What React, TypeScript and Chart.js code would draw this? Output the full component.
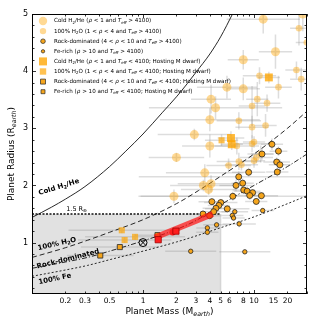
import React, { useEffect, useRef } from "react";
import { Chart, registerables } from "chart.js";
Chart.register(...registerables);

const FONT = '"DejaVu Sans", sans-serif';

// ---------- axes ----------
const xTickValues = [0.2, 0.3, 0.5, 1, 2, 3, 4, 5, 6, 8, 10, 15, 20];
const xTickLabels = ["0.2", "0.3", "0.5", "1", "2", "3", "4", "5", "6", "8", "10", "15", "20"];
const xMajorTicks = [0.1, 1, 10];
const xMinorTicks = [0.2, 0.3, 0.4, 0.5, 0.6, 0.7, 0.8, 0.9, 2, 3, 4, 5, 6, 7, 8, 9, 20, 30];
const yTickValues = [1, 2, 3, 4, 5];
const yMinorTicks = [0.2, 0.4, 0.6, 0.8, 1.2, 1.4, 1.6, 1.8, 2.2, 2.4, 2.6, 2.8, 3.2, 3.4, 3.6, 3.8, 4.2, 4.4, 4.6, 4.8];

// ---------- model curves ----------
const coldCurveMass = [0.1, 0.15, 0.2, 0.3, 0.5, 0.7, 1, 1.5, 2, 2.5, 3, 4, 5, 6.4, 7];
const coldCurveRadius = [1.44, 1.62, 1.76, 1.98, 2.33, 2.6, 2.9, 3.28, 3.55, 3.78, 3.98, 4.3, 4.6, 5.0, 5.15];
const curveMass = [0.1, 0.2, 0.316, 0.5, 1, 2, 3.16, 5, 10, 20, 30];
const h2oCurveRadius = [0.74, 0.91, 1.04, 1.18, 1.4, 1.68, 1.91, 2.16, 2.55, 3.0, 3.3];
const rockCurveRadius = [0.55, 0.66, 0.74, 0.85, 1.03, 1.23, 1.41, 1.66, 2.0, 2.33, 2.55];
const feCurveRadius = [0.41, 0.52, 0.6, 0.7, 0.85, 1.01, 1.13, 1.26, 1.45, 1.68, 1.82];
const limitMass = [0.1, 5];
const limitRadius = [1.5, 1.5];
const shadeMassMax = 5;
const shadeRadiusMax = 1.5;

// ---------- planets: T_eff > 4100 ----------
const coldFgkMass = [12.1, 15.6, 8.0, 5.7, 8.0, 4.1, 4.5, 4.0, 2.9, 2.0, 27.5, 4.0, 1.9, 3.6, 4.1, 3.5, 3.9];
const coldFgkRadius = [4.91, 4.34, 4.2, 3.72, 3.69, 3.51, 3.36, 3.15, 2.89, 2.49, 5.0, 2.69, 1.81, 2.22, 2.03, 2.0, 1.93];
const coldFgkMassErrDex = [0.33, 0.15, 0.14, 0.27, 0.15, 0.18, 0.6, 0.45, 0.33, 0.25, 0.1, 0.25, 0.3, 0.35, 0.3, 0.3, 0.25];
const coldFgkRadiusErr = [0.25, 0.3, 0.17, 0.2, 0.2, 0.25, 0.2, 0.2, 0.1, 0.08, 0.3, 0.2, 0.12, 0.15, 0.15, 0.1, 0.1];

const h2oFgkMass = [10.7, 9.6, 29.9, 25.4, 24.1, 26.6, 16.6, 11.2, 13.1, 7.3, 9.6, 12.7, 7.0, 9.6, 10.0, 11.5, 10.5, 7.3, 7.7, 10.0, 5.9];
const h2oFgkRadius = [3.51, 3.39, 4.5, 4.75, 4.02, 3.86, 3.72, 3.92, 3.44, 3.13, 3.02, 3.05, 2.69, 2.73, 2.76, 2.55, 2.49, 2.42, 2.36, 2.43, 2.35];
const h2oFgkMassErrDex = [0.1, 0.12, 0.1, 0.08, 0.1, 0.1, 0.12, 0.15, 0.12, 0.2, 0.15, 0.1, 0.2, 0.15, 0.1, 0.12, 0.15, 0.2, 0.15, 0.1, 0.2];
const h2oFgkRadiusErr = [0.3, 0.35, 0.25, 0.3, 0.15, 0.2, 0.2, 0.15, 0.15, 0.15, 0.2, 0.2, 0.15, 0.15, 0.1, 0.15, 0.1, 0.15, 0.1, 0.12, 0.12];

const rockFgkMass = [14.5, 16.6, 11.8, 16.0, 17.1, 16.2, 8.95, 7.28, 7.9, 6.88, 8.07, 8.67, 9.71, 9.15, 11.65, 6.44, 10.47, 4.17, 5.02, 4.82, 4.54, 5.74, 3.47, 3.98, 4.33];
const rockFgkRadius = [2.72, 2.6, 2.55, 2.41, 2.36, 2.235, 2.23, 2.15, 2.04, 2.0, 1.92, 1.9, 1.873, 1.824, 1.82, 1.81, 1.72, 1.716, 1.7, 1.65, 1.6, 1.59, 1.5, 1.47, 1.54];
const rockFgkMassErrDex = [0.1, 0.08, 0.1, 0.12, 0.1, 0.1, 0.15, 0.9, 0.1, 0.15, 0.1, 0.12, 0.1, 0.12, 0.15, 0.85, 0.1, 0.12, 0.15, 0.1, 0.12, 0.2, 0.15, 0.1, 0.12];
const rockFgkRadiusErr = [0.1, 0.08, 0.1, 0.08, 0.1, 0.08, 0.08, 0.1, 0.08, 0.1, 0.06, 0.08, 0.06, 0.08, 0.06, 0.08, 0.06, 0.06, 0.06, 0.06, 0.06, 0.06, 0.06, 0.05, 0.06];

const feFgkMass = [11.97, 6.71, 6.37, 6.54, 4.6, 3.8, 3.8, 7.35, 2.69, 8.26];
const feFgkRadius = [1.56, 1.54, 1.475, 1.43, 1.31, 1.257, 1.18, 1.327, 0.848, 0.838];
const feFgkMassErrDex = [0.1, 0.12, 0.1, 0.1, 0.12, 0.1, 0.1, 0.15, 0.23, 0.23];
const feFgkRadiusErr = [0.05, 0.05, 0.05, 0.05, 0.05, 0.05, 0.05, 0.06, 0.04, 0.04];

// ---------- planets: T_eff < 4100 (M dwarf hosts) ----------
const coldMMass = [13.6, 6.2, 6.3];
const coldMRadius = [3.89, 2.83, 2.72];
const coldMMassErrDex = [0.1, 0.12, 0.1];
const coldMRadiusErr = [0.1, 0.12, 0.1];

const h2oMMass = [5.1, 0.644, 0.683, 0.848];
const h2oMRadius = [2.79, 1.215, 1.044, 1.1];
const h2oMMassErrDex = [0.15, 0.48, 0.42, 0.45];
const h2oMRadiusErr = [0.1, 0.05, 0.05, 0.05];

const rockMMass = [0.412, 0.618, 1.35];
const rockMRadius = [0.773, 0.921, 1.13];
const rockMMassErrDex = [0.3, 0.35, 0.2];
const rockMRadiusErr = [0.04, 0.04, 0.05];

const feMMass: number[] = [];
const feMRadius: number[] = [];

// ---------- highlighted system & Earth ----------
const redLineMass = [1.28, 4.25];
const redLineRadius = [1.09, 1.5];
const redSquareMass = [1.37, 1.98];
const redSquareRadius = [1.05, 1.2];
const redCircleMass = [1.85];
const redCircleRadius = [1.18];
const earthMass = [1];
const earthRadius = [1];

// ---------- text ----------
type Seg = { t: string; s?: "i" | "sub" | "isub" };
const teff: Seg[] = [{ t: "T", s: "i" }, { t: "eff", s: "isub" }];
const rho: Seg = { t: "ρ", s: "i" };
const legendLabels: Seg[][] = [
  [{ t: "Cold H" }, { t: "2", s: "sub" }, { t: "/He (" }, rho, { t: " < 1 and " }, ...teff, { t: " > 4100)" }],
  [{ t: "100% H" }, { t: "2", s: "sub" }, { t: "O (1 < " }, rho, { t: " < 4 and " }, ...teff, { t: " > 4100)" }],
  [{ t: "Rock-dominated (4 < " }, rho, { t: " < 10 and " }, ...teff, { t: " > 4100)" }],
  [{ t: "Fe-rich (" }, rho, { t: " > 10 and " }, ...teff, { t: " > 4100)" }],
  [{ t: "Cold H" }, { t: "2", s: "sub" }, { t: "/He (" }, rho, { t: " < 1 and " }, ...teff, { t: " < 4100; Hosting M dwarf)" }],
  [{ t: "100% H" }, { t: "2", s: "sub" }, { t: "O (1 < " }, rho, { t: " < 4 and " }, ...teff, { t: " < 4100; Hosting M dwarf)" }],
  [{ t: "Rock-dominated (4 < " }, rho, { t: " < 10 and " }, ...teff, { t: " < 4100; Hosting M dwarf)" }],
  [{ t: "Fe-rich (" }, rho, { t: " > 10 and " }, ...teff, { t: " < 4100; Hosting M dwarf)" }],
];
const curveLabels: { segs: Seg[]; m: number; r: number; rot: number; bold: boolean; size: number }[] = [
  { segs: [{ t: "Cold H" }, { t: "2", s: "sub" }, { t: "/He" }], m: 0.175, r: 1.97, rot: -17, bold: true, size: 7 },
  { segs: [{ t: "1.5 R" }, { t: "⊕", s: "sub" }], m: 0.252, r: 1.59, rot: 0, bold: false, size: 6.5 },
  { segs: [{ t: "100% H" }, { t: "2", s: "sub" }, { t: "O" }], m: 0.168, r: 0.975, rot: -13, bold: true, size: 7 },
  { segs: [{ t: "Rock-dominated" }], m: 0.211, r: 0.712, rot: -14, bold: true, size: 7 },
  { segs: [{ t: "100% Fe" }], m: 0.161, r: 0.362, rot: -12, bold: true, size: 7 },
];
const xTitle: Seg[] = [{ t: "Planet Mass (M" }, { t: "earth", s: "isub" }, { t: ")" }];
const yTitle: Seg[] = [{ t: "Planet Radius (R" }, { t: "earth", s: "isub" }, { t: ")" }];

// ---------- styles ----------
const LIGHT = "rgba(255,165,0,0.42)";
const ROCK = "rgba(246,163,22,0.97)";
const EDGE = "#262626";
const SQ_COLD = "rgba(255,165,0,0.78)";
const SQ_H2O = "rgba(255,165,0,0.68)";
const ERR = "rgba(150,150,150,0.32)";

type Marker = { shape: "circle" | "rect"; size: number; fill: string; stroke?: string };
const legendMarkers: Marker[] = [
  { shape: "circle", size: 4.2, fill: LIGHT },
  { shape: "circle", size: 3.2, fill: LIGHT },
  { shape: "circle", size: 2.3, fill: ROCK, stroke: EDGE },
  { shape: "circle", size: 1.7, fill: ROCK, stroke: EDGE },
  { shape: "rect", size: 4, fill: SQ_COLD },
  { shape: "rect", size: 3.2, fill: SQ_H2O },
  { shape: "rect", size: 2.5, fill: ROCK, stroke: EDGE },
  { shape: "rect", size: 2, fill: ROCK, stroke: EDGE },
];

function segFont(seg: Seg, size: number, bold: boolean) {
  const italic = seg.s === "i" || seg.s === "isub";
  const sub = seg.s === "sub" || seg.s === "isub";
  const fs = sub ? size * 0.7 : size;
  return `${italic ? "italic " : ""}${bold ? "bold " : ""}${fs}px ${FONT}`;
}
function richWidth(ctx: CanvasRenderingContext2D, segs: Seg[], size: number, bold = false) {
  let w = 0;
  for (const s of segs) {
    ctx.font = segFont(s, size, bold);
    w += ctx.measureText(s.t).width;
  }
  return w;
}
function drawRich(ctx: CanvasRenderingContext2D, x: number, y: number, segs: Seg[], size: number, bold = false) {
  let cx = x;
  ctx.textBaseline = "middle";
  ctx.textAlign = "left";
  for (const s of segs) {
    ctx.font = segFont(s, size, bold);
    const sub = s.s === "sub" || s.s === "isub";
    ctx.fillText(s.t, cx, y + (sub ? size * 0.28 : 0));
    cx += ctx.measureText(s.t).width;
  }
}

const pts = (m: number[], r: number[]) => m.map((v, i) => ({ x: v, y: r[i] }));

const decorPlugin = {
  id: "decor",
  beforeDatasetsDraw(chart: any) {
    const { ctx, chartArea: a, scales } = chart;
    const x = scales.x, y = scales.y;
    ctx.save();
    ctx.beginPath();
    ctx.rect(a.left, a.top, a.right - a.left, a.bottom - a.top);
    ctx.clip();
    // shaded region
    const x0 = a.left, x1 = x.getPixelForValue(shadeMassMax);
    const y0 = y.getPixelForValue(shadeRadiusMax), y1 = a.bottom;
    ctx.fillStyle = "#e1e1e1";
    ctx.fillRect(x0, y0, x1 - x0, y1 - y0);
    ctx.strokeStyle = "rgba(190,190,190,0.5)";
    ctx.lineWidth = 1.5;
    ctx.beginPath();
    ctx.moveTo(x1, y0);
    ctx.lineTo(x1, y1);
    ctx.stroke();
    // error bars
    ctx.strokeStyle = ERR;
    ctx.lineWidth = 1.5;
    chart.data.datasets.forEach((ds: any) => {
      if (!ds.errX) return;
      ds.data.forEach((p: any, i: number) => {
        const d = ds.errX[i], e = ds.errY[i];
        const px = x.getPixelForValue(p.x), py = y.getPixelForValue(p.y);
        ctx.beginPath();
        ctx.moveTo(x.getPixelForValue(p.x / Math.pow(10, d)), py);
        ctx.lineTo(x.getPixelForValue(p.x * Math.pow(10, d)), py);
        ctx.moveTo(px, y.getPixelForValue(p.y - e));
        ctx.lineTo(px, y.getPixelForValue(p.y + e));
        ctx.stroke();
      });
    });
    ctx.restore();
  },
  afterDraw(chart: any) {
    const { ctx, chartArea: a, scales } = chart;
    const x = scales.x, y = scales.y;
    ctx.save();
    // frame
    ctx.strokeStyle = "#000";
    ctx.lineWidth = 1;
    ctx.strokeRect(Math.round(a.left) + 0.5, Math.round(a.top) + 0.5, Math.round(a.right - a.left) - 1, Math.round(a.bottom - a.top) - 1);
    // ticks
    const tick = (x1: number, y1: number, x2: number, y2: number) => {
      ctx.beginPath();
      ctx.moveTo(x1, y1);
      ctx.lineTo(x2, y2);
      ctx.stroke();
    };
    ctx.lineWidth = 0.8;
    xMajorTicks.forEach((v) => {
      const p = Math.round(x.getPixelForValue(v)) + 0.5;
      tick(p, a.bottom, p, a.bottom - 4);
      tick(p, a.top, p, a.top + 4);
    });
    xMinorTicks.forEach((v) => {
      const p = Math.round(x.getPixelForValue(v)) + 0.5;
      tick(p, a.bottom, p, a.bottom - 2.5);
      tick(p, a.top, p, a.top + 2.5);
    });
    yTickValues.forEach((v) => {
      const p = Math.round(y.getPixelForValue(v)) + 0.5;
      tick(a.left, p, a.left + 4, p);
      tick(a.right, p, a.right - 4, p);
    });
    yMinorTicks.forEach((v) => {
      const p = Math.round(y.getPixelForValue(v)) + 0.5;
      tick(a.left, p, a.left + 2.5, p);
      tick(a.right, p, a.right - 2.5, p);
    });
    // curve labels
    ctx.fillStyle = "#000";
    curveLabels.forEach((l) => {
      const px = x.getPixelForValue(l.m), py = y.getPixelForValue(l.r);
      const w = richWidth(ctx, l.segs, l.size, l.bold);
      ctx.save();
      ctx.translate(px, py);
      ctx.rotate((l.rot * Math.PI) / 180);
      drawRich(ctx, -w / 2, 0, l.segs, l.size, l.bold);
      ctx.restore();
    });
    // legend
    const lx = a.left + 11, tx = a.left + 22, ly0 = a.top + 7, step = 10.1;
    legendMarkers.forEach((mk, i) => {
      const cy = ly0 + i * step;
      ctx.beginPath();
      if (mk.shape === "circle") ctx.arc(lx, cy, mk.size, 0, Math.PI * 2);
      else ctx.rect(lx - mk.size, cy - mk.size, mk.size * 2, mk.size * 2);
      ctx.fillStyle = mk.fill;
      ctx.fill();
      if (mk.stroke) {
        ctx.strokeStyle = mk.stroke;
        ctx.lineWidth = 0.7;
        ctx.stroke();
      }
      ctx.fillStyle = "#000";
      drawRich(ctx, tx, cy, legendLabels[i], 5.6);
    });
    // axis titles
    const tsize = 9;
    const wx = richWidth(ctx, xTitle, tsize);
    drawRich(ctx, (a.left + a.right) / 2 - wx / 2, 312, xTitle, tsize);
    const wy = richWidth(ctx, yTitle, tsize);
    ctx.save();
    ctx.translate(12, (a.top + a.bottom) / 2);
    ctx.rotate(-Math.PI / 2);
    drawRich(ctx, -wy / 2, 0, yTitle, tsize);
    ctx.restore();
    ctx.restore();
  },
};

export default function App() {
  const ref = useRef<HTMLCanvasElement>(null);
  useEffect(() => {
    const canvas = ref.current!;
    const curve = (label: string, m: number[], r: number[], dash: number[], width: number) => ({
      label,
      data: pts(m, r),
      showLine: true,
      borderColor: "#111",
      borderWidth: width,
      borderDash: dash,
      pointRadius: 0,
      cubicInterpolationMode: "monotone",
      clip: 0,
      order: 5,
    });
    const scatter = (label: string, m: number[], r: number[], ex: number[] | null, ey: number[] | null, style: string, radius: number, fill: string, stroke: string | null, order: number) => ({
      label,
      data: pts(m, r),
      errX: ex,
      errY: ey,
      pointStyle: style,
      pointRadius: radius,
      backgroundColor: fill,
      borderColor: stroke || "rgba(0,0,0,0)",
      borderWidth: stroke ? 0.8 : 0,
      order,
    });
    const chart = new Chart(canvas, {
      type: "scatter",
      data: {
        datasets: [
          { label: "EarthX", data: pts(earthMass, earthRadius), pointStyle: "crossRot", pointRadius: 4, borderColor: "#000", borderWidth: 1, order: 0 },
          { label: "EarthO", data: pts(earthMass, earthRadius), pointStyle: "circle", pointRadius: 4, backgroundColor: "rgba(0,0,0,0)", borderColor: "#000", borderWidth: 1, order: 0 },
          scatter("Red squares", redSquareMass, redSquareRadius, null, null, "rect", 4.4, "#ff1e1e", "#a00000", 0),
          scatter("Red circle", redCircleMass, redCircleRadius, null, null, "circle", 3.2, "#ff1e1e", null, 0),
          { label: "Red line", data: pts(redLineMass, redLineRadius), showLine: true, borderColor: "rgba(255,20,20,0.72)", borderWidth: 6, pointRadius: 0, order: 1 },
          scatter("Cold M", coldMMass, coldMRadius, coldMMassErrDex, coldMRadiusErr, "rect", 5.6, SQ_COLD, null, 2),
          scatter("H2O M", h2oMMass, h2oMRadius, h2oMMassErrDex, h2oMRadiusErr, "rect", 4.3, SQ_H2O, null, 2),
          scatter("Rock M", rockMMass, rockMRadius, rockMMassErrDex, rockMRadiusErr, "rect", 3.6, ROCK, EDGE, 2),
          scatter("Fe M", feMMass, feMRadius, null, null, "rect", 2.8, ROCK, EDGE, 2),
          scatter("Fe FGK", feFgkMass, feFgkRadius, feFgkMassErrDex, feFgkRadiusErr, "circle", 2.2, ROCK, EDGE, 3),
          scatter("Rock FGK", rockFgkMass, rockFgkRadius, rockFgkMassErrDex, rockFgkRadiusErr, "circle", 3, ROCK, EDGE, 3),
          scatter("H2O FGK", h2oFgkMass, h2oFgkRadius, h2oFgkMassErrDex, h2oFgkRadiusErr, "circle", 3.3, LIGHT, null, 4),
          scatter("Cold FGK", coldFgkMass, coldFgkRadius, coldFgkMassErrDex, coldFgkRadiusErr, "circle", 4.5, LIGHT, null, 4),
          curve("Cold H2/He", coldCurveMass, coldCurveRadius, [], 0.9),
          curve("100% H2O", curveMass, h2oCurveRadius, [5, 3], 0.9),
          curve("Rock-dominated", curveMass, rockCurveRadius, [5, 2, 1.2, 2], 0.9),
          curve("100% Fe", curveMass, feCurveRadius, [2, 2], 0.9),
          curve("1.5 Re", limitMass, limitRadius, [2, 1.5], 1.6),
        ] as any,
      },
      options: {
        responsive: false,
        animation: false,
        events: [],
        layout: { padding: { top: 14, right: 17, left: 0, bottom: 0 } },
        plugins: { legend: { display: false }, tooltip: { enabled: false } },
        scales: {
          x: {
            type: "logarithmic",
            min: 0.1,
            max: 30,
            grid: { display: false, drawTicks: false },
            border: { display: false },
            afterBuildTicks: (s: any) => {
              s.ticks = xTickValues.map((v) => ({ value: v }));
            },
            afterFit: (s: any) => {
              s.height = 30;
            },
            ticks: {
              autoSkip: false,
              maxRotation: 0,
              padding: 3,
              color: "#000",
              font: { family: FONT, size: 7.5 },
              callback: (v: any) => {
                const i = xTickValues.indexOf(Number(v));
                return i >= 0 ? xTickLabels[i] : "";
              },
            },
          },
          y: {
            type: "linear",
            min: 0.1,
            max: 5,
            grid: { display: false, drawTicks: false },
            border: { display: false },
            afterBuildTicks: (s: any) => {
              s.ticks = yTickValues.map((v) => ({ value: v }));
            },
            afterFit: (s: any) => {
              s.width = 32;
            },
            ticks: {
              autoSkip: false,
              padding: 4,
              color: "#000",
              font: { family: FONT, size: 8 },
              callback: (v: any) => String(v),
            },
          },
        },
      } as any,
      plugins: [decorPlugin as any],
    });
    return () => chart.destroy();
  }, []);
  return (
    <div style={{ position: "absolute", left: 0, top: 0, width: 324, height: 324, background: "#fff" }}>
      <canvas ref={ref} width={324} height={324} style={{ width: 324, height: 324, display: "block" }} />
    </div>
  );
}
